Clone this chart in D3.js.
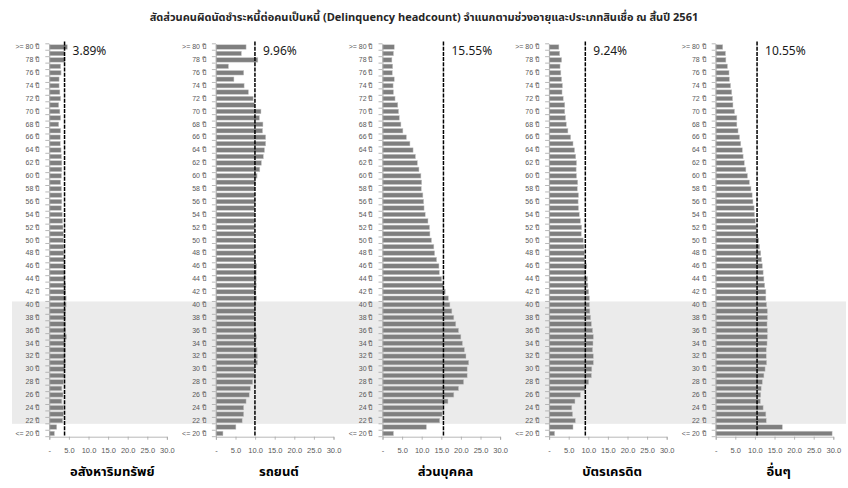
<!DOCTYPE html>
<html>
<head>
<meta charset="utf-8">
<script src="https://cdn.jsdelivr.net/npm/d3@7"></script>
<style>
  body { margin: 0; background: #fff; }
  svg { display: block; font-family: Tahoma, "Noto Sans Thai", "Noto Sans", "DejaVu Sans", sans-serif; }
</style>
</head>
<body>
<svg id="chart" width="848" height="488"></svg>
<script>
// ---------- DATA ----------
const titleText = "สัดส่วนคนผิดนัดชำระหนี้ต่อคนเป็นหนี้ (Delinquency headcount) จำแนกตามช่วงอายุและประเภทสินเชื่อ ณ สิ้นปี 2561";
const ages = d3.range(20, 81); // 20 ... 80
const panelNames = ["อสังหาริมทรัพย์", "รถยนต์", "ส่วนบุคคล", "บัตรเครดิต", "อื่นๆ"];
const averages = [3.89, 9.96, 15.55, 9.24, 10.55];
const xTickValues = [0, 5, 10, 15, 20, 25, 30];
const xTickLabels = ["-", "5.0", "10.0", "15.0", "20.0", "25.0", "30.0"];
const highlightAges = [22, 40];

// values for ages 20 (<=20) to 80 (>=80)
const propertyVals = [1.3,1.9,3.4,3.6,3.6,3.2,3.5,3.2,3.6,3.8,4.0,4.1,4.0,4.1,4.1,4.4,4.2,4.2,4.2,4.2,4.3,4.3,4.2,4.2,4.0,3.9,4.0,3.8,3.7,3.7,3.6,3.6,3.5,3.4,3.3,3.1,3.2,3.2,3.1,2.9,3.1,3.2,3.2,3.1,3.0,2.8,2.8,2.9,2.4,2.9,2.7,2.4,2.9,2.7,2.5,2.5,3.0,2.9,4.0,3.8,4.6];
const autoVals = [1.8,5.1,6.7,7.1,7.1,7.7,8.5,8.8,9.4,9.8,10.0,10.6,10.6,10.5,10.2,10.4,10.2,10.1,10.1,10.1,10.2,10.4,10.2,10.3,10.3,10.3,10.4,10.1,9.9,9.9,9.9,9.9,9.9,9.9,9.9,9.9,10.0,9.9,9.9,10.1,10.5,11.2,11.6,12.1,12.4,12.7,12.7,11.9,12.0,11.1,11.5,9.9,9.5,8.3,7.2,4.6,7.1,3.2,10.7,6.5,7.7];
const personalVals = [2.8,11.2,14.6,15.2,15.4,16.7,18.2,19.4,20.7,21.6,21.6,22.0,21.3,20.9,20.4,20.0,19.4,18.7,18.2,17.7,17.2,16.8,16.0,15.6,15.1,14.5,14.4,13.8,13.3,13.1,12.5,12.1,12.0,11.6,10.9,10.6,10.5,10.3,9.9,10.0,9.8,9.3,8.9,8.4,7.8,7.0,6.1,5.2,4.7,4.3,4.1,3.9,3.2,2.8,2.7,3.0,2.5,2.6,2.4,2.8,3.0];
const creditCardVals = [1.4,6.1,6.7,6.0,5.8,6.6,8.0,9.2,10.1,10.8,10.9,11.3,11.3,11.1,11.2,11.3,11.1,10.8,10.6,10.4,10.3,10.3,10.1,9.9,9.8,9.2,9.6,9.1,9.0,8.9,8.7,8.2,8.3,8.0,7.7,7.5,7.4,7.5,7.2,7.3,7.0,6.9,7.0,6.8,6.5,6.1,5.5,4.8,4.4,4.2,4.0,4.0,3.6,3.3,3.4,3.2,3.0,2.8,3.2,2.7,2.5];
const otherVals = [29.7,17.0,12.9,12.8,12.1,11.4,11.5,11.6,11.9,12.3,12.6,13.0,12.9,12.9,13.1,13.2,13.2,13.1,13.2,13.2,13.0,12.8,12.8,12.5,12.3,12.1,11.9,11.7,11.5,11.2,11.0,10.7,10.4,10.1,9.9,9.8,9.5,9.3,9.0,8.6,8.1,7.7,7.3,7.0,6.8,6.4,6.1,5.7,5.4,5.4,4.8,4.4,4.3,4.1,3.8,3.5,3.4,3.0,2.6,2.5,1.8];

const seriesList = [propertyVals, autoVals, personalVals, creditCardVals, otherVals];

// ---------- LAYOUT ----------
const W = 848, H = 488;
const plotTop = 43.8, plotBottom = 436.7;
const panelX0 = 49.3, panelStep = 166.6, panelW = 117.6;

const ageLabel = a => a === 80 ? ">= 80 ปี" : (a === 20 ? "<= 20 ปี" : a + " ปี");
const yDomain = ages.slice().reverse(); // 80 at top

const y = d3.scaleBand().domain(yDomain).range([plotTop, plotBottom]).paddingInner(0.3).paddingOuter(0.15);

const svg = d3.select("#chart");

// highlight band (ages 22-40)
const bandTop = y(highlightAges[1]) - y.step() * y.paddingInner() / 2;
const bandBottom = y(highlightAges[0]) + y.bandwidth() + y.step() * y.paddingInner() / 2;
svg.append("rect")
  .attr("x", 12).attr("y", bandTop)
  .attr("width", W - 14).attr("height", bandBottom - bandTop)
  .attr("fill", "#ebebeb");

// title
svg.append("text")
  .attr("x", W / 2).attr("y", 21)
  .attr("text-anchor", "middle")
  .attr("font-size", 11).attr("font-weight", "bold")
  .attr("fill", "#262626")
  .text(titleText);

seriesList.forEach((vals, i) => {
  const x0 = panelX0 + i * panelStep;
  const x = d3.scaleLinear().domain([0, 30]).range([x0, x0 + panelW]);
  const g = svg.append("g");

  // bars
  g.selectAll("rect.bar")
    .data(ages.map((a, k) => ({ age: a, v: vals[k] })))
    .join("rect")
    .attr("class", "bar")
    .attr("x", x(0))
    .attr("y", d => y(d.age))
    .attr("width", d => x(d.v) - x(0))
    .attr("height", y.bandwidth())
    .attr("fill", "#7f7f7f")
    .attr("stroke", "#c8c8c8")
    .attr("stroke-width", 0.5);

  // y axis (labels every 2 years)
  const yAxis = d3.axisLeft(y)
    .tickValues(ages.filter(a => a % 2 === 0))
    .tickFormat(ageLabel)
    .tickSize(0)
    .tickPadding(10);
  const ga = g.append("g")
    .attr("transform", `translate(${x0},0)`)
    .call(yAxis);
  ga.select(".domain").attr("stroke", "#a6a6a6").attr("stroke-width", 0.8);
  ga.selectAll("text").attr("font-size", 7).attr("fill", "#595959");

  // boundary tick marks
  const bounds = yDomain.map(a => y(a) - y.step() * y.paddingInner() / 2).concat([plotBottom]);
  g.selectAll("line.yt").data(bounds).join("line")
    .attr("class", "yt")
    .attr("x1", x0 - 4).attr("x2", x0)
    .attr("y1", d => d).attr("y2", d => d)
    .attr("stroke", "#a6a6a6").attr("stroke-width", 0.8);

  // x axis
  const xAxis = d3.axisBottom(x)
    .tickValues(xTickValues)
    .tickFormat((d, k) => xTickLabels[k])
    .tickSize(3)
    .tickPadding(8);
  const gx = g.append("g")
    .attr("transform", `translate(0,${plotBottom})`)
    .call(xAxis);
  gx.select(".domain").attr("stroke", "#a6a6a6").attr("stroke-width", 0.8);
  gx.selectAll(".tick line").attr("stroke", "#a6a6a6").attr("stroke-width", 0.8);
  gx.selectAll("text").attr("font-size", 7.5).attr("fill", "#595959");

  // average dashed line
  g.append("line")
    .attr("x1", x(averages[i])).attr("x2", x(averages[i]))
    .attr("y1", 41.5).attr("y2", plotBottom)
    .attr("stroke", "#000").attr("stroke-width", 1.5)
    .attr("stroke-dasharray", "4,1.2");

  g.append("text")
    .attr("x", x(averages[i]) + 8).attr("y", 54.5)
    .attr("font-size", 12).attr("fill", "#1a1a1a")
    .text(averages[i].toFixed(2) + "%");

  // panel name
  g.append("text")
    .attr("x", x0 + 63).attr("y", 476)
    .attr("text-anchor", "middle")
    .attr("font-size", 13).attr("font-weight", "bold")
    .attr("fill", "#000")
    .text(panelNames[i]);
});
</script>
</body>
</html>
